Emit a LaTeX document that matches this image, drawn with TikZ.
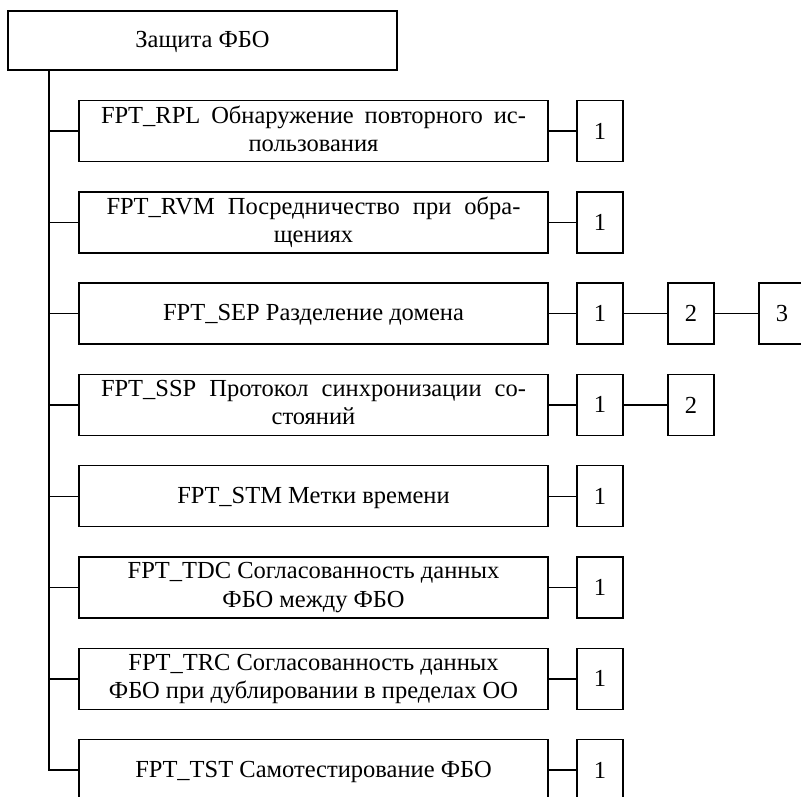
\documentclass[tikz,border=0pt]{standalone}
\usepackage{fontspec}
\setmainfont{Liberation Serif}
\usetikzlibrary{positioning}
\def\boxHeight{61pt}
\def\familyWidth{469pt}
\def\levelWidth{46pt}
\def\lineStrut{\rule[-5pt]{0pt}{24pt}}
\tikzset{% component hierarchy styles
  classbox/.style  = {draw, line width=1.4pt, rectangle, outer sep=0pt, inner sep=2pt,
    minimum width=389pt, minimum height=59pt, align=center,
    execute at begin node=\lineStrut, execute at end node=\lineStrut},
  familybox/.style = {draw, line width=1.4pt, rectangle, outer sep=0pt, inner sep=2pt,
    minimum width=\familyWidth, minimum height=\boxHeight, align=center,
    execute at begin node=\lineStrut, execute at end node=\lineStrut},
  levelbox/.style  = {draw, line width=1.4pt, rectangle, outer sep=0pt, inner sep=0pt,
    minimum width=\levelWidth, minimum height=\boxHeight},
  link/.style      = {line width=1.4pt},
}
\begin{document}
\begin{tikzpicture}[x=1pt, y=1pt, font=\fontsize{24.5}{28.4}\selectfont]
        \useasboundingbox (0,0) rectangle (801,-796);

        \node[classbox] at (202.5,-40.5) (FPT) {Защита ФБО};

        \node[familybox] at (313.5,-131) (RPL) {\makebox[425pt][s]{FPT\_RPL Обнаружение повторного ис-}\\пользования};
        \node[familybox, below=30.3pt of RPL] (RVM) {\makebox[414pt][s]{FPT\_RVM Посредничество при обра-}\\щениях};
        \node[familybox, below=30.3pt of RVM] (SEP) {FPT\_SEP Разделение домена};
        \node[familybox, below=30.3pt of SEP] (SSP) {\makebox[425pt][s]{FPT\_SSP Протокол синхронизации со-}\\стояний};
        \node[familybox, below=30.3pt of SSP] (STM) {FPT\_STM Метки времени};
        \node[familybox, below=30.3pt of STM] (TDC) {FPT\_TDC Согласованность данных\\ФБО между ФБО};
        \node[familybox, below=30.3pt of TDC] (TRC) {FPT\_TRC Согласованность данных\\ФБО при дублировании в пределах ОО};
        \node[familybox, below=30.3pt of TRC] (TST) {FPT\_TST Самотестирование ФБО};

        % levels of each family
        \node[levelbox, right=29pt of RPL] (RPLone) {1};
        \node[levelbox, right=29pt of RVM] (RVMone) {1};
        \node[levelbox, right=29pt of SEP] (SEPone) {1};
        \node[levelbox, right=45pt of SEPone] (SEPtwo) {2};
        \node[levelbox, right=45pt of SEPtwo] (SEPthree) {3};
        \node[levelbox, right=29pt of SSP] (SSPone) {1};
        \node[levelbox, right=45pt of SSPone] (SSPtwo) {2};
        \node[levelbox, right=29pt of STM] (STMone) {1};
        \node[levelbox, right=29pt of TDC] (TDCone) {1};
        \node[levelbox, right=29pt of TRC] (TRCone) {1};
        \node[levelbox, right=29pt of TST] (TSTone) {1};

        \coordinate (trunk) at ([xshift=41pt]FPT.south west);
        \draw[link] (trunk) |- (TST.west);
        \foreach \fam in {RPL,RVM,SEP,SSP,STM,TDC,TRC}
          \draw[link] (trunk |- \fam.west) -- (\fam.west);

        \foreach \fam in {RPL,RVM,SEP,SSP,STM,TDC,TRC,TST}
          \draw[link] (\fam.east) -- (\fam one.west);

        \draw[link] (SEPone) -- (SEPtwo);
        \draw[link] (SEPtwo) -- (SEPthree);
        \draw[link] (SSPone) -- (SSPtwo);

\end{tikzpicture}
\end{document}
